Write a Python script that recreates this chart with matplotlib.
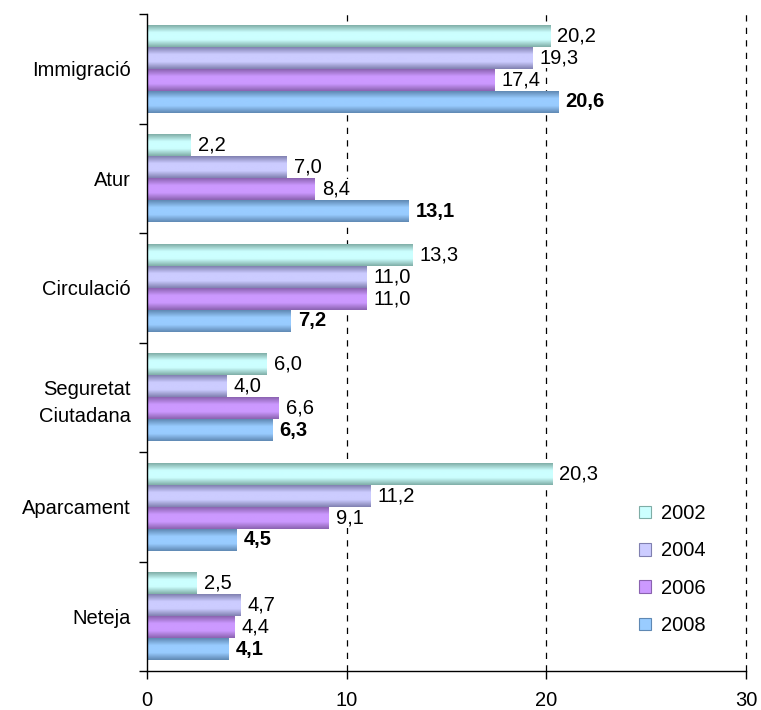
import numpy as np
import matplotlib
matplotlib.use("Agg")
import matplotlib.pyplot as plt
from matplotlib.colors import LinearSegmentedColormap
from matplotlib.patches import Patch

plt.rcParams['font.family'] = ['Liberation Sans', 'DejaVu Sans']

categories = ["Immigració", "Atur", "Circulació", "Seguretat\nCiutadana", "Aparcament", "Neteja"]
series_names = ["2002", "2004", "2006", "2008"]
v2002 = [20.2, 2.2, 13.3, 6.0, 20.3, 2.5]
v2004 = [19.3, 7.0, 11.0, 4.0, 11.2, 4.7]
v2006 = [17.4, 8.4, 11.0, 6.6, 9.1, 4.4]
v2008 = [20.6, 13.1, 7.2, 6.3, 4.5, 4.1]
values = [v2002, v2004, v2006, v2008]
xticks = [0, 10, 20, 30]

centers = ["#ccffff", "#ccccff", "#cc99ff", "#99ccff"]
edges = ["#7fada6", "#8080b0", "#8a62b0", "#5f88b3"]

FS = 14.5

fig = plt.figure(figsize=(7.61, 7.10), dpi=100)
ax = fig.add_axes([147 / 761, 1 - 671 / 710, 599 / 761, 657 / 710])

n = len(categories)
h = 0.2
offsets = [0.3, 0.1, -0.1, -0.3]

for s, vals in enumerate(values):
    cmap = LinearSegmentedColormap.from_list("g%d" % s, [edges[s], centers[s], centers[s], edges[s]])
    grad = np.linspace(0, 1, 64).reshape(-1, 1)
    for i, v in enumerate(vals):
        yc = (n - 1 - i) + offsets[s]
        ax.imshow(grad, cmap=cmap, aspect='auto', extent=[0, v, yc - h / 2, yc + h / 2],
                  interpolation='bicubic', zorder=2)
        label = ("%.1f" % v).replace(".", ",")
        ax.annotate(label, xy=(v, yc), xytext=(5, 0), textcoords='offset points',
                    ha='left', va='center', fontsize=FS,
                    fontweight='bold' if s == 3 else 'normal',
                    bbox=dict(boxstyle='square,pad=0.05', fc='white', ec='none'), zorder=4)

ax.set_xlim(0, 30)
ax.set_ylim(-0.5, n - 0.5)
ax.set_xticks(xticks)
ax.set_xticklabels([str(t) for t in xticks], fontsize=FS)
ax.set_yticks(range(n))
ax.set_yticklabels(categories[::-1], fontsize=FS, linespacing=1.5)
ax.tick_params(axis='y', which='major', length=0, pad=11.5)
ax.set_yticks(np.arange(-0.5, n, 1.0), minor=True)
ax.tick_params(axis='y', which='minor', length=6, width=1)
ax.tick_params(axis='x', length=6, width=1, pad=8.5)

for t in xticks[1:]:
    ax.axvline(t, color='black', linestyle=(0, (5, 5)), linewidth=0.9, zorder=1, clip_on=False)

for sp in ['top', 'right']:
    ax.spines[sp].set_visible(False)
for sp in ['left', 'bottom']:
    ax.spines[sp].set_linewidth(1)

handles = [Patch(facecolor=centers[s], edgecolor=edges[s], linewidth=0.8) for s in range(4)]
leg = ax.legend(handles, series_names, loc='upper left', bbox_to_anchor=(0.822, 0.254),
                frameon=False, fontsize=FS, handlelength=0.6, handleheight=0.6,
                labelspacing=0.91, handletextpad=0.45, borderpad=0, borderaxespad=0)

fig.savefig("out.png", dpi=100, facecolor='white')
